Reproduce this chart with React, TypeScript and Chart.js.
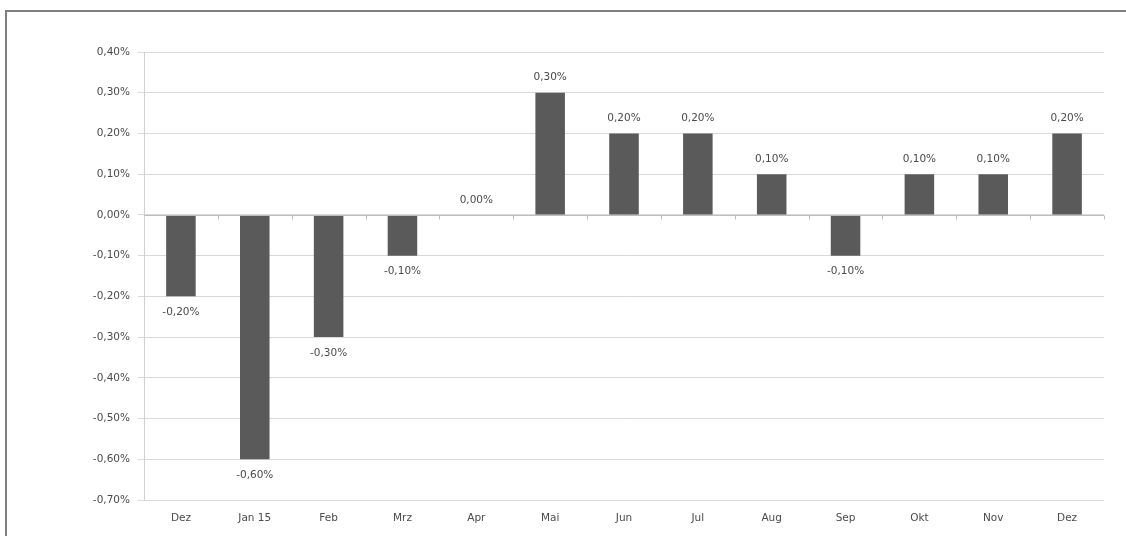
import React, { useEffect, useRef } from "react";
import { Chart, registerables } from "chart.js";

Chart.register(...registerables);

const categories = ["Dez", "Jan 15", "Feb", "Mrz", "Apr", "Mai", "Jun", "Jul", "Aug", "Sep", "Okt", "Nov", "Dez"];
const values = [-0.2, -0.6, -0.3, -0.1, 0.0, 0.3, 0.2, 0.2, 0.1, -0.1, 0.1, 0.1, 0.2];
const yMin = -0.7;
const yMax = 0.4;
const yStep = 0.1;

const FONT = "'DejaVu Sans', sans-serif";
const TEXT = "#4a4a4a";

const fmt = (v: number) => {
  const x = Math.abs(v) < 1e-9 ? 0 : v;
  return x.toFixed(2).replace(".", ",") + "%";
};

const labelPlugin = {
  id: "barLabels",
  afterDatasetsDraw(chart: any) {
    const ctx = chart.ctx;
    const meta = chart.getDatasetMeta(0);
    ctx.save();
    ctx.font = `10.5px ${FONT}`;
    ctx.fillStyle = TEXT;
    ctx.textAlign = "center";
    ctx.textBaseline = "middle";
    meta.data.forEach((el: any, i: number) => {
      const v = values[i];
      const y = v >= 0 ? el.y - 15 : el.y + 16;
      ctx.fillText(fmt(v), el.x, y);
    });
    ctx.restore();
  },
  afterDraw(chart: any) {
    const ctx = chart.ctx;
    const xs = chart.scales.x;
    const ys = chart.scales.y;
    const y0 = Math.round(ys.getPixelForValue(0)) + 0.5;
    const n = categories.length;
    const w = (xs.right - xs.left) / n;
    ctx.save();
    ctx.strokeStyle = "#bdbdbd";
    ctx.lineWidth = 1;
    ctx.beginPath();
    ctx.moveTo(xs.left, y0);
    ctx.lineTo(xs.right, y0);
    for (let i = 1; i <= n; i++) {
      const x = Math.round(xs.left + i * w) + 0.5;
      ctx.moveTo(x, y0);
      ctx.lineTo(x, y0 + 4);
    }
    ctx.stroke();
    ctx.restore();
  },
};

export default function App() {
  const ref = useRef<HTMLCanvasElement | null>(null);
  useEffect(() => {
    if (!ref.current) return;
    const chart = new Chart(ref.current, {
      type: "bar",
      data: {
        labels: categories,
        datasets: [
          {
            data: values,
            backgroundColor: "#5a5a5a",
            borderWidth: 0,
            barPercentage: 0.4,
            categoryPercentage: 1.0,
          },
        ],
      },
      options: {
        responsive: false,
        animation: false,
        layout: { padding: { top: 52, right: 22, left: 0, bottom: 0 } },
        plugins: { legend: { display: false }, tooltip: { enabled: false } },
        scales: {
          x: {
            grid: { display: false, drawTicks: false },
            border: { display: false },
            ticks: { color: TEXT, font: { family: FONT, size: 10.5 }, padding: 12, maxRotation: 0 },
            afterFit: (s: any) => {
              s.height = 36;
            },
          },
          y: {
            min: yMin,
            max: yMax,
            grid: { color: "#d9d9d9", tickLength: 6, drawTicks: true, tickColor: "#d9d9d9" },
            border: { display: true, color: "#d0d0d0" },
            ticks: {
              stepSize: yStep,
              color: TEXT,
              font: { family: FONT, size: 10.5 },
              padding: 8,
              callback: (v: any) => fmt(Number(v)),
            },
            afterFit: (s: any) => {
              s.width = 144;
            },
          },
        },
      },
      plugins: [labelPlugin],
    });
    return () => chart.destroy();
  }, []);
  return (
    <div style={{ position: "fixed", left: 0, top: 0, width: 1126, height: 536, background: "#fff", overflow: "hidden" }}>
      <div
        style={{
          position: "absolute",
          left: 5,
          top: 10,
          width: 1300,
          height: 700,
          border: "2px solid #7f7f7f",
          boxSizing: "border-box",
        }}
      />
      <canvas ref={ref} width={1126} height={536} style={{ position: "absolute", left: 0, top: 0 }} />
    </div>
  );
}
